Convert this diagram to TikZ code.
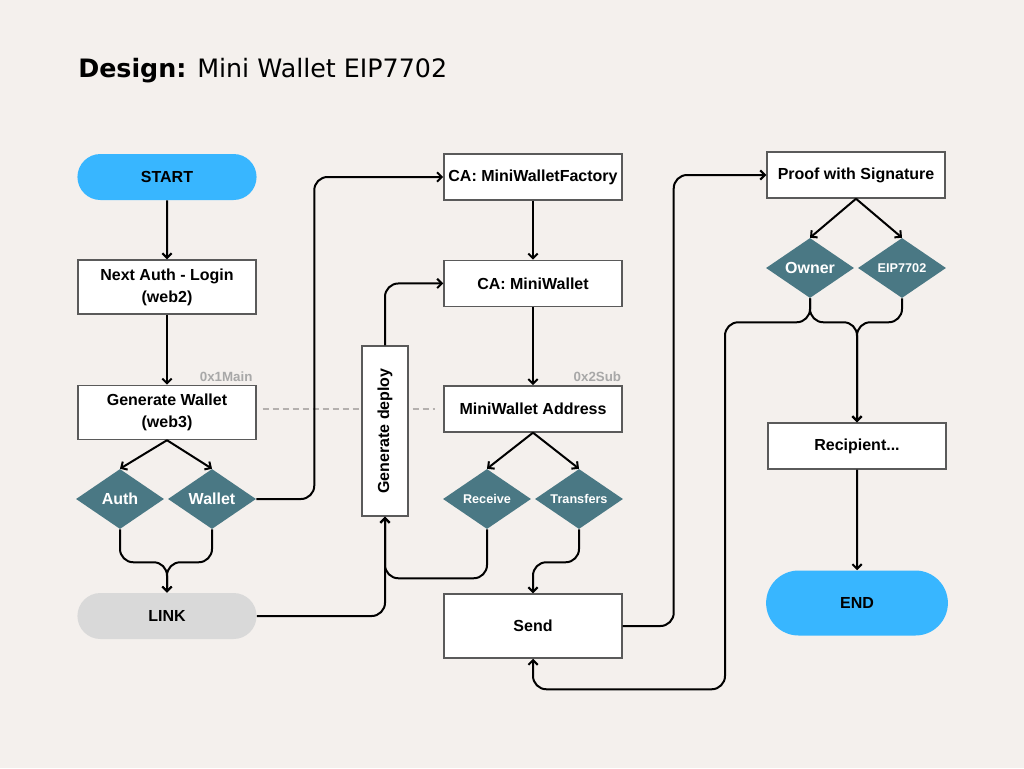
\documentclass[tikz,border=0pt]{standalone}
\usepackage{fontspec}
\setmainfont{Liberation Sans}
\newfontfamily\headfont{DejaVu Sans}
\usepackage{graphicx}
\usetikzlibrary{
  arrows.meta, % for Straight Barb arrow tip
  positioning, % for relative positioning of the boxes
  shapes.geometric, % for the diamond decisions
  shapes.misc % for the rounded start/end pills
}
\definecolor{paper}{HTML}{F4F0ED}
\definecolor{sky}{HTML}{38B6FF}
\definecolor{slate}{HTML}{4A7884}
\definecolor{cloud}{HTML}{D9D9D9}
\definecolor{edge}{HTML}{5A5A5A}
\definecolor{taggray}{HTML}{A8A8A8}
\definecolor{dashgray}{HTML}{B4B0AE}
\tikzset{
  process/.style={ % style for each white box
    rectangle,draw=edge,fill=white,line width=1.1pt, % thin grey frame
    minimum width=133.5pt,minimum height=34.5pt, % same size for every box
    font=\fontsize{12}{16.5}\selectfont\bfseries,
    align=center,
  },
  terminal/.style={ % style for the start/end pills
    rounded rectangle,fill=sky, % half circles at both ends
    minimum width=141pt,minimum height=34.5pt,
    font=\fontsize{12}{14}\selectfont\bfseries,
  },
  decision/.style={ % style for the diamonds
    diamond,fill=slate,text=white,
    inner sep=0pt,aspect=1.47, % no padding, the size is fixed below
    minimum width=66pt,minimum height=45pt,
    font=\fontsize{12}{14}\selectfont\bfseries,
  },
  small/.style={ % smaller text in some diamonds
    font=\fontsize{9.5}{11}\selectfont\bfseries,
  },
  tag/.style={ % style for the address labels
    inner sep=0pt,text=taggray,
    font=\fontsize{10}{12}\selectfont\bfseries,
  },
  conn/.style={ % style for the connections
    -{Straight Barb[length=3.5pt,width=7pt]}, % simple barbed arrow tip
    line width=1.5pt,rounded corners=10pt,
  },
}
\begin{document}
\begin{tikzpicture}[x=0.75pt,y=-0.75pt]
  \useasboundingbox[fill=paper] (0,0) rectangle (1024,768);
  \node[anchor=base west,inner sep=0pt,font=\headfont\fontsize{19}{22}\selectfont] (title) at (78,77) {\textbf{Design:} Mini Wallet EIP7702};
  % first column
  \node[terminal] (start) at (167,177) {START};
  \node[process, minimum height=40.5pt, below=44.25pt of start] (login) {Next Auth - Login\\(web2)};
  \node[process, minimum height=40.5pt, below=52.5pt of login] (genwallet) {Generate Wallet\\(web3)};
  \node[decision] (auth) at (120,499) {Auth};
  \node[decision] (wallet) at (212,499) {Wallet};
  \node[terminal, fill=cloud] (link) at (167,616) {LINK};
  % second column
  \node[process] (factory) at (533,177) {CA: MiniWalletFactory};
  \node[process, below=44.25pt of factory] (miniwallet) {CA: MiniWallet};
  \node[process, below=58.5pt of miniwallet] (address) {MiniWallet Address};
  \node[decision, small] (receive) at (487,499) {Receive};
  \node[decision, small] (transfers) at (579,499) {Transfers};
  \node[process, minimum height=48pt] (send) at (533,626) {Send};
  % third column
  \node[process] (proof) at (856,175) {Proof with Signature};
  \node[decision] (owner) at (810,268) {Owner};
  \node[decision, small] (eip) at (902,268) {EIP7702};
  \node[process] (recipient) at (857,446) {Recipient...};
  \node[terminal, minimum height=48.75pt, minimum width=143pt] (finish) at (857,603) {END};
  % address tags
  \node[tag, anchor=south east] (maintag) at ([xshift=-3pt,yshift=2.5pt]genwallet.north east) {0x1Main};
  \node[tag, anchor=south east] (subtag) at ([xshift=-1pt,yshift=2.5pt]address.north east) {0x2Sub};
  \draw[dashed, dash pattern=on 4.5pt off 3pt, line width=1.2pt, dashgray, shorten <=4.5pt, shorten >=6pt] (genwallet.east |- address.west) -- (address.west);
  \node[process, minimum width=34.5pt, minimum height=127.5pt] (deploy) at (385,431) {\rotatebox{90}{Generate deploy}};
  % connections
  \draw[conn] (start) -- (login);
  \draw[conn] (login) -- (genwallet);
  \draw[conn] (genwallet.south) -- (auth.north);
  \draw[conn] (genwallet.south) -- (wallet.north);
  \draw[conn] (auth.south) -- ++(0,33) -| (link.north);
  \draw[conn] (wallet.south) -- ++(0,33) -| (link.north);
  \draw[conn] (wallet.east) -- ++(58,0) |- (factory.west);
  \draw[conn] (link.east) -| (deploy.south);
  \draw[conn] (receive.south) -- ++(0,49) -| (deploy.south);
  \draw[conn] (deploy.north) |- (miniwallet.west);
  \draw[conn] (factory) -- (miniwallet);
  \draw[conn] (miniwallet) -- (address);
  \draw[conn] (address.south) -- (receive.north);
  \draw[conn] (address.south) -- (transfers.north);
  \draw[conn] (transfers.south) -- ++(0,33) -| (send.north);
  \draw[conn] (send.east) -- ++(51,0) |- (proof.west);
  \draw[conn] (proof.south) -- (owner.north);
  \draw[conn] (proof.south) -- (eip.north);
  \draw[conn] (owner.south) -- ++(0,24) -| (recipient.north);
  \draw[conn] (eip.south) -- ++(0,24) -| (recipient.north);
  \draw[conn] (owner.south) -- ++(0,24) -- ++(-85,0) -- ++(0,367) -| (send.south);
  \draw[conn] (recipient) -- (finish);
\end{tikzpicture}
\end{document}
